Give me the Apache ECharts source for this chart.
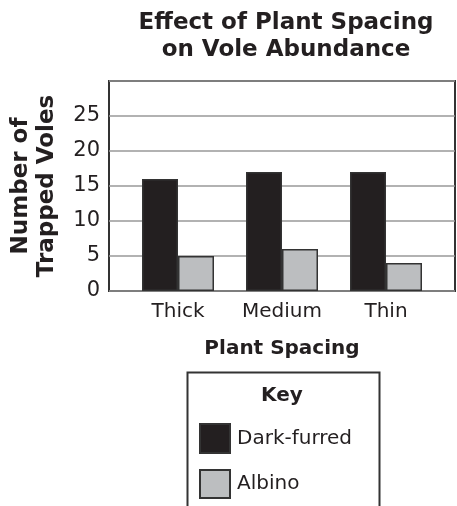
<!DOCTYPE html>
<html>
<head>
<meta charset="utf-8">
<script src="https://cdn.jsdelivr.net/npm/echarts@6/dist/echarts.min.js"></script>
<style>html,body{margin:0;padding:0;background:#fff}#c{width:457px;height:506px}</style>
</head>
<body>
<div id="c"></div>
<script>
var categories = ['Thick', 'Medium', 'Thin'];
var darkFurred = [16, 17, 17];
var albino = [5, 6, 4];
var yTicks = [0, 5, 10, 15, 20, 25];
var seriesNames = ['Dark-furred', 'Albino'];

var FONT = 'DejaVu Sans';
var TXT = '#231f20';
var legendText = {fontFamily: FONT, fontSize: 20, color: TXT, padding: [0, 0, 0, 2]};
var chart = echarts.init(document.getElementById('c'), null, {renderer: 'canvas'});
chart.setOption({
  animation: false,
  backgroundColor: '#fff',
  title: {
    text: 'Effect of Plant Spacing\non Vole Abundance',
    left: 281, top: 5, textAlign: 'center',
    textStyle: {fontFamily: FONT, fontWeight: 'bold', fontSize: 23, lineHeight: 27, color: TXT}
  },
  grid: [
    {left: 106, top: 81, width: 349, height: 210, show: true, borderColor: '#333', borderWidth: 2, backgroundColor: 'transparent'},
    {left: 126, top: 81, width: 312, height: 210}
  ],
  xAxis: [
    {gridIndex: 0, type: 'value', show: false, min: 0, max: 1},
    {gridIndex: 1, type: 'category', data: categories,
     axisLine: {show: false}, axisTick: {show: false},
     axisLabel: {fontFamily: FONT, fontSize: 20, color: TXT, margin: 11},
     name: 'Plant Spacing', nameLocation: 'middle', nameGap: 48,
     nameTextStyle: {fontFamily: FONT, fontWeight: 'bold', fontSize: 20, color: TXT}}
  ],
  yAxis: [
    {gridIndex: 0, type: 'value', min: 0, max: 30, interval: 5,
     axisLine: {show: false}, axisTick: {show: false},
     axisLabel: {fontFamily: FONT, fontSize: 21, color: TXT, margin: 9,
       formatter: function (v) { return yTicks.indexOf(v) >= 0 ? String(v) : ''; }},
     splitLine: {show: true, lineStyle: {color: '#999', width: 1.5}},
     name: 'Number of\nTrapped Voles', nameLocation: 'middle', nameRotate: 90, nameGap: 49,
     nameTextStyle: {fontFamily: FONT, fontWeight: 'bold', fontSize: 23, lineHeight: 26, color: TXT}},
    {gridIndex: 1, type: 'value', min: 0, max: 30, show: false, splitLine: {show: false}}
  ],
  legend: [
    {left: 199, top: 423, padding: 0, itemWidth: 30, itemHeight: 29, icon: 'rect',
     textStyle: legendText, data: [seriesNames[0]]},
    {left: 199, top: 469, padding: 0, itemWidth: 30, itemHeight: 28, icon: 'rect',
     textStyle: legendText, data: [seriesNames[1]]}
  ],
  graphic: [
    {type: 'rect', left: 185, top: 370, shape: {width: 192, height: 200},
     style: {fill: 'none', stroke: '#333', lineWidth: 2}, z: -1},
    {type: 'text', left: 261, top: 386,
     style: {text: 'Key', fontFamily: FONT, fontWeight: 'bold', fontSize: 20, fill: TXT}}
  ],
  series: [
    {name: seriesNames[0], type: 'bar', xAxisIndex: 1, yAxisIndex: 1, data: darkFurred,
     barWidth: 36, barGap: '0%',
     itemStyle: {color: '#231f20', borderColor: '#333', borderWidth: 1.5}},
    {name: seriesNames[1], type: 'bar', xAxisIndex: 1, yAxisIndex: 1, data: albino,
     barWidth: 36, barGap: '0%',
     itemStyle: {color: '#bcbec0', borderColor: '#333', borderWidth: 1.5}}
  ]
});
</script>
</body>
</html>
